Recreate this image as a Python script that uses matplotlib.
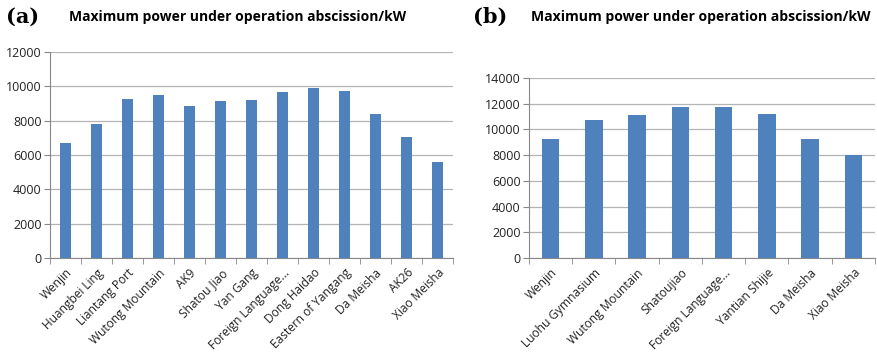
import numpy as np
import matplotlib
matplotlib.use("Agg")
import matplotlib.pyplot as plt

# (a) data
sites_a = ["Wenjin", "Huangbei Ling", "Liantang Port", "Wutong Mountain", "AK9",
           "Shatou Jiao", "Yan Gang", "Foreign Language...", "Dong Haidao",
           "Eastern of Yangang", "Da Meisha", "AK26", "Xiao Meisha"]
power_a = [6700, 7800, 9250, 9500, 8870, 9130, 9200, 9670, 9900, 9740, 8400, 7070, 5600]
yticks_a = [0, 2000, 4000, 6000, 8000, 10000, 12000]

# (b) data
sites_b = ["Wenjin", "Luohu Gymnasium", "Wutong Mountain", "Shatoujiao",
           "Foreign Language...", "Yantian Shijie", "Da Meisha", "Xiao Meisha"]
power_b = [9280, 10730, 11120, 11770, 11770, 11220, 9280, 8000]
yticks_b = [0, 2000, 4000, 6000, 8000, 10000, 12000, 14000]

title = "Maximum power under operation abscission/kW"
bar_color = "#4F81BD"
font = "Open Sans"

W, H = 878, 353
fig = plt.figure(figsize=(W / 100, H / 100), dpi=100)


def box(x0, y0, x1, y1):
    return [x0 / W, 1 - y1 / H, (x1 - x0) / W, (y1 - y0) / H]


def draw(ax, names, vals, yt, bw):
    x = np.arange(len(names))
    ax.bar(x, vals, width=bw, color=bar_color, zorder=3)
    ax.set_xlim(-0.5, len(names) - 0.5)
    ax.set_ylim(yt[0], yt[-1])
    ax.set_yticks(yt)
    ax.set_yticklabels([str(v) for v in yt], fontsize=9, family=font, color="#222222")
    ax.grid(axis="y", color="#b4b4b4", lw=0.9, zorder=0)
    ax.set_xticks(x)
    ax.set_xticklabels(names, rotation=45, ha="right", rotation_mode="anchor",
                       fontsize=8.6, family=font, color="#222222")
    ax.tick_params(axis="x", which="major", length=0, pad=6)
    ax.set_xticks(np.arange(len(names) + 1) - 0.5, minor=True)
    ax.tick_params(axis="x", which="minor", length=4, color="#888888")
    ax.tick_params(axis="y", length=4, color="#888888", pad=2)
    for s in ["top", "right"]:
        ax.spines[s].set_visible(False)
    for s in ["left", "bottom"]:
        ax.spines[s].set_color("#888888")


ax1 = fig.add_axes(box(50, 52, 453, 258))
draw(ax1, sites_a, power_a, yticks_a, 0.38)
ax2 = fig.add_axes(box(529, 78, 875, 258))
draw(ax2, sites_b, power_b, yticks_b, 0.4)

fig.text(6 / W, 1 - 17 / H, "(a)", family="DejaVu Serif", fontweight="bold",
         fontsize=15, va="center", ha="left")
fig.text(238 / W, 1 - 17 / H, title, family=font, fontweight="bold",
         fontsize=10, va="center", ha="center")
fig.text(473 / W, 1 - 17 / H, "(b)", family="DejaVu Serif", fontweight="bold",
         fontsize=15, va="center", ha="left")
fig.text(531 / W, 1 - 17 / H, title, family=font, fontweight="bold",
         fontsize=10.1, va="center", ha="left")

fig.savefig("out.png", dpi=100)
